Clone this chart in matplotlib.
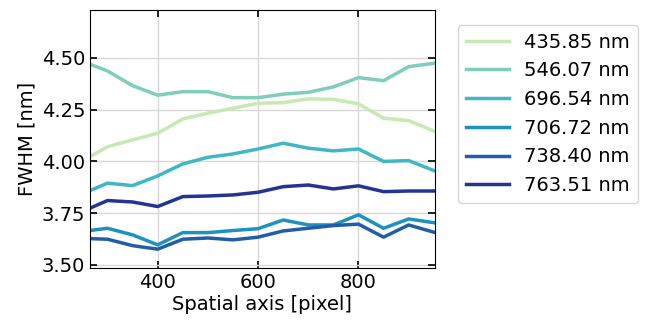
import matplotlib
matplotlib.use('Agg')
import matplotlib.pyplot as plt

# spatial positions along the slit
pixels = [265, 300, 350, 400, 450, 500, 550, 600, 650, 700, 750, 800, 850, 900, 950]

wavelengths = ['435.85 nm', '546.07 nm', '696.54 nm', '706.72 nm', '738.40 nm', '763.51 nm']
colors = ['#c7e9b4', '#7fcdbb', '#41b6c4', '#1d91c0', '#225ea8', '#253494']

fwhm_435 = [4.023, 4.071, 4.104, 4.136, 4.205, 4.233, 4.257, 4.281, 4.284, 4.302, 4.300, 4.278, 4.209, 4.197, 4.147]
fwhm_546 = [4.470, 4.437, 4.366, 4.320, 4.337, 4.337, 4.308, 4.308, 4.325, 4.334, 4.360, 4.405, 4.390, 4.458, 4.474]
fwhm_696 = [3.859, 3.895, 3.883, 3.930, 3.988, 4.020, 4.036, 4.060, 4.088, 4.064, 4.051, 4.060, 4.000, 4.004, 3.956]
fwhm_706 = [3.666, 3.677, 3.645, 3.597, 3.656, 3.656, 3.666, 3.675, 3.717, 3.693, 3.693, 3.742, 3.677, 3.722, 3.704]
fwhm_738 = [3.627, 3.624, 3.593, 3.576, 3.624, 3.630, 3.621, 3.634, 3.664, 3.677, 3.690, 3.697, 3.634, 3.693, 3.658]
fwhm_763 = [3.774, 3.811, 3.804, 3.782, 3.830, 3.833, 3.838, 3.851, 3.878, 3.886, 3.867, 3.882, 3.854, 3.857, 3.857]

series = [fwhm_435, fwhm_546, fwhm_696, fwhm_706, fwhm_738, fwhm_763]

plt.rcParams['font.size'] = 14
fig = plt.figure(figsize=(6.47, 3.2), dpi=100)
ax = fig.add_axes([0.139, 0.1625, 0.533, 0.8065])

for y, lab, c in zip(series, wavelengths, colors):
    ax.plot(pixels, y, '-', color=c, lw=2.5, label=lab)

ax.set_xlim(265, 952)
ax.set_ylim(3.485, 4.732)
ax.set_xticks([400, 600, 800])
ax.set_yticks([3.50, 3.75, 4.00, 4.25, 4.50])
ax.grid(True, color='#d8d8d8', lw=1)
ax.tick_params(direction='in', top=True, right=True, length=5, width=1.2)
ax.set_xlabel('Spatial axis [pixel]', labelpad=2)
ax.set_ylabel('FWHM [nm]')

ax.legend(loc='upper left', bbox_to_anchor=(1.04, 0.98), fontsize=14, handlelength=2.2)

fig.savefig('out.png', dpi=100)
